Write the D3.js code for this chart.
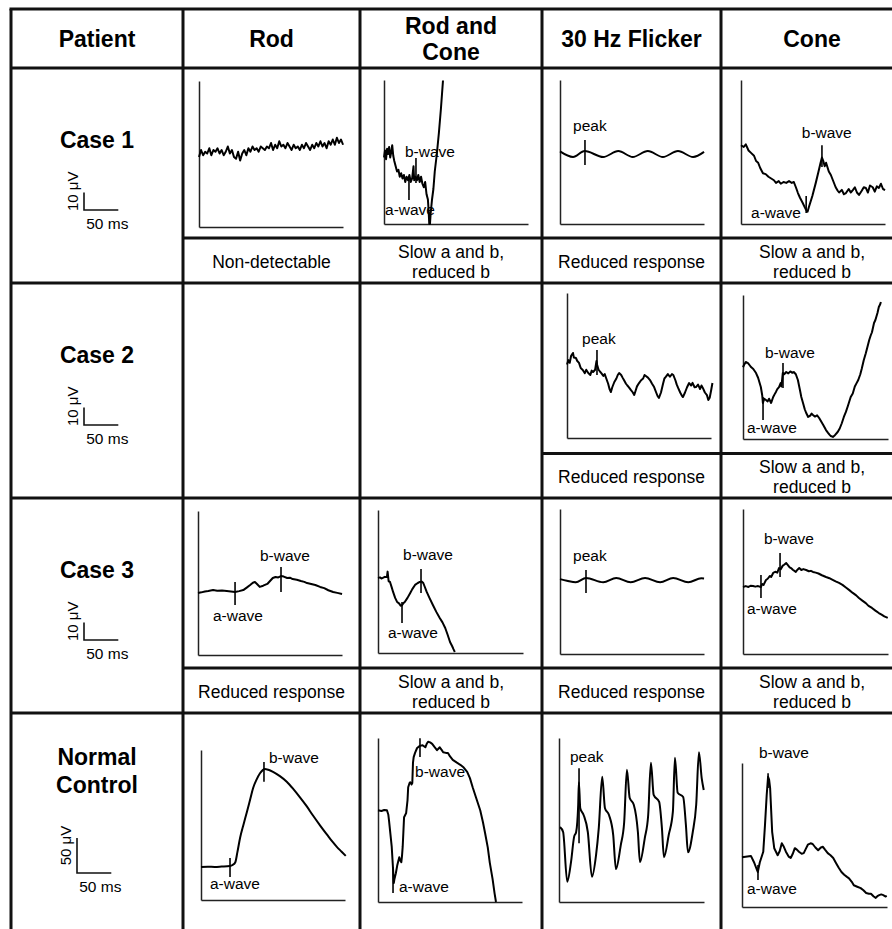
<!DOCTYPE html>
<html><head><meta charset="utf-8">
<script src="https://cdn.jsdelivr.net/npm/d3@7"></script>
<style>
html,body{margin:0;padding:0;background:#fff;}
svg{display:block;font-family:"Liberation Sans",Arial,Helvetica,sans-serif;}
</style></head>
<body>
<svg id="chart" width="892" height="929"></svg>
<script>
// ---------------- DATA ----------------
const patients = [["Case 1"], ["Case 2"], ["Case 3"], ["Normal", "Control"]];
const protocols = [["Rod"], ["Rod and", "Cone"], ["30 Hz Flicker"], ["Cone"]];
const findingsCase1 = [["Non-detectable"], ["Slow a and b,", "reduced b"], ["Reduced response"], ["Slow a and b,", "reduced b"]];
const findingsCase2 = [null, null, ["Reduced response"], ["Slow a and b,", "reduced b"]];
const findingsCase3 = [["Reduced response"], ["Slow a and b,", "reduced b"], ["Reduced response"], ["Slow a and b,", "reduced b"]];
const scaleBarUv = [10, 10, 10, 50];   // μV
const scaleBarMs = [50, 50, 50, 50];   // ms

// traces: [time ms, amplitude μV above the panel's zero line]
const case1Rod = [[0,40],[3,44],[6,41],[9,43],[12,42],[15,45],[18,41],[21,44],[24,43],[27,45],[30,42],[33,44],[36,41],[39,43],[42,46],[45,42],[48,44],[51,40],[54,39],[57,43],[60,38],[63,42],[66,44],[69,41],[72,45],[75,43],[78,46],[81,44],[84,45],[87,43],[90,46],[93,45],[96,44],[99,46],[102,45],[105,48],[108,44],[111,47],[114,45],[117,49],[120,46],[123,47],[126,45],[129,48],[132,46],[135,44],[138,47],[141,45],[144,46],[147,44],[150,47],[153,45],[156,48],[159,46],[162,44],[165,47],[168,45],[171,48],[174,46],[177,49],[180,46],[183,48],[186,45],[189,49],[192,47],[195,50],[198,47],[201,51],[204,48],[207,50],[210,47]];
const case1RodCone = [[0,38],[1.5,42],[3,37],[4.5,43],[6,40],[7.5,44],[9,38],[10.5,41],[12,45],[13.5,39],[15,36],[17,33],[19,30],[21,31],[23,27],[25,29],[27,26],[29,28],[31,24],[33,27],[35,25],[37,28],[39,24],[41,26],[43,33],[44,25],[46,27],[48,25],[50,28],[52,24],[54,27],[56,23],[58,21],[60,24],[62,17],[64,14],[65,8],[66,0],[67,0],[68,6],[70,14],[72,20],[74,30],[77,40],[80,52],[83,66],[86,82]];
const case1Flicker = [[0,41.5],[19,38.3],[36,41.7],[63,38.3],[85,41.7],[106,38.3],[128,41.7],[150,38.3],[172,41.7],[194,38.3],[210,41.2]];
const case1Cone = [[0,45],[4,44],[7,45.5],[11,42],[15,40.5],[19,39],[22,36],[25,35],[28,32],[32,29],[36,28.5],[40,27],[44,26],[48,25],[51,23.5],[55,24.5],[58,23],[62,24],[66,23.5],[70,24.5],[74,23.5],[77,24],[80,21],[83,17.7],[86,15],[90,12],[93,9.5],[95,8],[97,7],[99,9.7],[104,16],[109,23.5],[113,30],[116,35],[118,38],[120,36],[122,33],[124,35],[128,30],[131,28],[134,25],[138,21],[141,19],[143,18],[147,19.5],[150,17],[153,17.7],[157,20],[160,18],[163,19.4],[166,21],[169,18],[172,16.6],[176,19],[179,21],[182,20.6],[185,18],[188,22],[192,21],[195,18.5],[198,21.5],[201,20.6],[204,23],[207,20],[210,19.4]];
const case2Flicker = [[0,42],[2,44.5],[4,43],[6,47],[8.7,48.6],[10,46],[13,45.7],[15,44],[17.5,42.9],[20,40],[23,38.9],[26,37],[28,39],[31,37.1],[34,36],[36,38.5],[38,37.7],[41,39],[43,44],[44,41.7],[46,39],[48,38],[50,37.1],[53,35.5],[55,36.5],[57,34.3],[60,31],[62,28],[64,26.3],[66,29],[69,32],[72,34],[74,36],[76,37.1],[79,36],[81,34.5],[83,33.1],[86,31],[88,30],[90,29.1],[93,27.5],[96,26],[98,24.6],[100,27],[102,29.5],[105,31.4],[108,33],[111,34],[113,36],[115,35.4],[118,34.5],[121,33.1],[124,31],[127,29.1],[130,26],[132,24],[134,22.9],[137,26],[140,31],[142,34],[144,34.9],[147,36.5],[150,35],[153,36.5],[155,36],[158,33],[160,30.5],[162,28.6],[165,26],[167,24.5],[169,23.4],[172,26],[175,29],[178,31.4],[181,30],[183,31.5],[186,29],[188,29.1],[191,30.5],[194,28],[196,30],[198,28.6],[201,26],[204,24.5],[206,21.7],[208,23],[210,27],[212,31.4]];
const case2Cone = [[0,41],[1.5,42.3],[4,44],[7.3,43.4],[10,42],[11.7,41.1],[15,40],[19,37.7],[22,35],[26,29.7],[28,25],[29,20.6],[31,23],[33.5,22.3],[36,21.5],[38,23],[41,20.6],[44,24],[46,25.5],[48,26.9],[50,28.5],[52.5,29.7],[55,32],[56,30],[58,37.7],[60,37],[63,38.3],[66,37.5],[69,38.6],[72,37.8],[74,38.3],[77,37],[80,33.7],[83,28],[85,24],[87.5,20.6],[90,17],[92,15],[95,12.6],[98,13.4],[100,14.5],[102,13.7],[105,12.8],[108,13.5],[111,12],[114,10],[117,8],[121,5.1],[124,3.5],[126,2.5],[128,1.7],[131,1.2],[134,2.2],[138,4],[141,6],[144,9],[147,12.6],[150,15.5],[153,19],[157,24],[160,26],[163,30],[165,31.5],[168,33.7],[171,37],[173,40],[176,45],[179,49],[181,52],[184,56.6],[186,59],[188,61],[191,66.3],[193,68],[196,72],[198,75.4],[200,77],[201,78.3]];
const case3Rod = [[0,35.4],[5,35.8],[10,36.3],[15,36.6],[22,37.1],[28,36.7],[35,36.9],[42,36.6],[48,36.3],[54,36],[60,36.5],[66,37.1],[71,38.5],[76,40],[80,41.3],[83,41.7],[86,40.6],[90,38.9],[95,39.6],[101,40.6],[105,42.3],[109,44],[113,44.6],[117,44.3],[121,45.1],[125,44.8],[130,44],[134,44.2],[138,43.4],[144,43],[150,42.3],[155,41.8],[159,41.1],[165,40.6],[171,40],[178,38.9],[184,38.2],[190,37],[197,36],[203,35.5],[210,34.9]];
const case3RodCone = [[0,42.9],[3,43.2],[5,42.6],[7,42.9],[10,43.5],[13,43.4],[14,46.5],[15.5,41],[17.5,40.6],[20,37.5],[22,34.9],[25,31.5],[28,29.1],[31,28.2],[33,27],[35,27.4],[37,28.5],[39,29.1],[43,31.5],[47,34.3],[50,36.5],[54,38.9],[58,40],[61,40.6],[64,40.8],[66,40],[68,38],[71,34.9],[75,31.5],[80,27.4],[85,23.5],[90,20],[94,17.5],[98,14.3],[101,11],[105,6.3],[108,4],[110,2.2],[112,0.6]];
const case3Flicker = [[0,42.8],[10,41.9],[23,41],[38,43.5],[63,41],[82,43.5],[103,41],[124,43.5],[146,41],[165,43.5],[187,41],[206,43.3],[210,43.2]];
const case3Cone = [[0,38.3],[4,38.8],[8,38.3],[11,39],[14.6,38.9],[18,38.5],[22,38.8],[26,38.3],[28,40],[30,39.5],[33.5,42.3],[36,43],[39,44.5],[41,44],[44,46.3],[47,47],[50,46.5],[52.5,49.1],[55,48.5],[58,50.5],[60,51],[63,52],[66,50.5],[68,49.5],[70,49.1],[73,48],[75,47.5],[77,46.9],[79,48],[82,49.1],[85,48],[88,48.5],[92,48],[96,47.3],[99,47.5],[102,46.9],[106,46.5],[110,46],[115,45],[121,44],[126,43.3],[130,42.5],[135,41.5],[140,40.6],[145,39.5],[150,38],[155,36.5],[160,34.9],[165,33.5],[169,32],[174,30.5],[179,29.1],[183,27.5],[188,26.3],[193,24.8],[198,23.4],[202,22.5],[206,21.5],[211,20.6]];
const normalRod = [[0,47],[10,47.5],[20,47.3],[30,47.8],[42,48.6],[46,50],[50,54],[53,68],[57,89],[62,108],[67,126],[72,145],[76,160],[81,172],[86,181],[90,185.5],[93,187],[98,186],[105,183],[115,177],[125,169],[135,158],[144,147],[154,134],[163,121],[174,106],[184,93],[191,84],[198,76],[205,69],[211,63]];
const normalRodCone = [[0,131],[5,130],[9,131.5],[13,131],[15,125],[16,117],[18,98],[20,79],[22,46],[23,27],[24,33],[26,41],[28,52],[29,56],[31,64],[32,60],[34,57],[35,66],[36,79],[37,100],[38,121],[40,125],[41,127],[43,145],[44,164],[46,170],[47,171],[49,168],[50,170],[51,199],[52,207],[54,213],[57,220],[61,223],[65,224],[69,221],[71,226],[73,229],[76,228],[79,226],[82,222],[86,217],[88,219],[90,221],[93,217],[95,214],[99,213],[102,213],[105,208],[109,203],[115,199],[120,196],[125,192],[130,186],[134,177],[138,164],[143,149],[149,131],[153,114],[156,99],[160,78],[163,56],[167,33],[170,12],[172,0]];
const normalFlicker = [[1.5,107],[6,100],[12,29],[17.5,57],[22,93],[25,100],[28,139],[29,171],[31,134],[36,124],[42,100],[48,36],[54,67],[58,106],[63,179],[67,134],[73,124],[79,96],[83,47],[90,81],[95,114],[99,189],[103,149],[109,139],[115,100],[118,57],[125,91],[130,124],[134,199],[138,153],[146,143],[150,106],[153,64],[160,96],[166,129],[169,206],[173,156],[181,150],[185,110],[188,71],[195,100],[200,139],[204,214],[208,177],[211,160]];
const normalCone = [[0,71],[13,73],[17.5,64],[21,55],[23,50],[26,64],[31,79],[33.5,117],[36,160],[38,186],[39.5,182],[41,170],[44,107],[47,84],[52,74],[55,80],[58,91],[61,86],[64,79],[68,72],[71,70],[74,76],[77,84],[80,82],[83,79],[87,76],[90,77],[93,83],[96,89],[100,91],[103,90],[107,85],[111,81],[115,85],[118,86],[121,82],[125,77],[129,74],[133,70],[137,63],[141,56],[145,50],[149,46],[153,43],[156,41],[160,36],[163,31],[168,29],[173,27],[177,24],[181,20],[185,19],[188,19],[192,15],[195,13],[198,16],[200,17],[203,18],[206,17],[209,15],[211,16]];

// marker ticks: time (ms), tick extent lo..hi (μV)
const case1RodConeMarks = [{name:"a-wave", t:36.4, lo:13.7, hi:25.1}, {name:"b-wave", t:46.6, lo:23.4, hi:37.7}];
const case1FlickerMarks = [{name:"peak", t:36.4, lo:33.7, hi:48}];
const case1ConeMarks = [{name:"a-wave", t:95, lo:6.3, hi:16}, {name:"b-wave", t:118, lo:32.6, hi:45}];
const case2FlickerMarks = [{name:"peak", t:43.7, lo:36, hi:50.3}];
const case2ConeMarks = [{name:"a-wave", t:29.2, lo:10.9, hi:24}, {name:"b-wave", t:58.3, lo:29.1, hi:43.4}];
const case3RodMarks = [{name:"a-wave", t:54, lo:28.6, hi:41.7}, {name:"b-wave", t:121, lo:36, hi:50.3}];
const case3RodConeMarks = [{name:"a-wave", t:35, lo:17.1, hi:29.1}, {name:"b-wave", t:62.7, lo:34.3, hi:48}];
const case3FlickerMarks = [{name:"peak", t:37.9, lo:34.9, hi:48}];
const case3ConeMarks = [{name:"a-wave", t:26.2, lo:32, hi:45.1}, {name:"b-wave", t:54, lo:44, hi:57.7}];
const normalRodMarks = [{name:"a-wave", t:42.3, lo:32.9, hi:60}, {name:"b-wave", t:91.8, lo:169, hi:197}];
const normalRodConeMarks = [{name:"a-wave", t:21.9, lo:12.9, hi:50}, {name:"b-wave", t:61.2, lo:207, hi:234}];
const normalFlickerMarks = [{name:"peak", t:29.2, lo:84, hi:191}];
const normalConeMarks = [{name:"a-wave", t:23.3, lo:38.6, hi:60}, {name:"b-wave", t:38, lo:170, hi:191}];

// ---------------- LAYOUT ----------------
const W = 892, H = 929;
const PX_PER_MS = 0.686;
const colX = [11, 183, 360, 542, 721, 903];
const headerY = [9, 68];
const rowTop = [68, 283, 498, 713];
const rowSplit = [238, 453.5, 668, null];
const rowBottom = [283, 498, 713, 940];
const pxPerUvRow = [1.75, 1.75, 1.75, 0.7];
const FONT = '"Liberation Sans", Arial, Helvetica, sans-serif';

// panel boxes: x0=left axis, y0=top, x1=right end, y1=zero/baseline axis
const panels = [
  {trace:case1Rod, marks:[], row:0, x0:199, y0:81, x1:343, y1:227, curve:"linear", labels:{}},
  {trace:case1RodCone, marks:case1RodConeMarks, row:0, x0:384, y0:80, x1:528, y1:224, curve:"linear",
    labels:{"a-wave":{t:1.5,v:5.1,a:"start"}, "b-wave":{t:30.6,v:38.3,a:"start"}}},
  {trace:case1Flicker, marks:case1FlickerMarks, row:0, x0:560, y0:80, x1:704, y1:224, curve:"smooth",
    labels:{"peak":{t:19,v:53,a:"start"}}},
  {trace:case1Cone, marks:case1ConeMarks, row:0, x0:741, y0:80, x1:885, y1:224, curve:"linear",
    labels:{"a-wave":{t:14.6,v:3.4,a:"start"}, "b-wave":{t:125,v:49,a:"middle"}}},
  {trace:case2Flicker, marks:case2FlickerMarks, row:1, x0:567, y0:293, x1:711, y1:438, curve:"linear",
    labels:{"peak":{t:21.9,v:53.7,a:"start"}}},
  {trace:case2Cone, marks:case2ConeMarks, row:1, x0:743, y0:295, x1:888, y1:439, curve:"linear",
    labels:{"a-wave":{t:5.8,v:3.4,a:"start"}, "b-wave":{t:32,v:46.3,a:"start"}}},
  {trace:case3Rod, marks:case3RodMarks, row:2, x0:198, y0:511, x1:342, y1:655, curve:"linear",
    labels:{"a-wave":{t:58.3,v:19.4,a:"middle"}, "b-wave":{t:126.8,v:53.7,a:"middle"}}},
  {trace:case3RodCone, marks:case3RodConeMarks, row:2, x0:378, y0:510, x1:523, y1:653, curve:"linear",
    labels:{"a-wave":{t:51,v:8.6,a:"middle"}, "b-wave":{t:72.9,v:53.1,a:"middle"}}},
  {trace:case3Flicker, marks:case3FlickerMarks, row:2, x0:560, y0:509, x1:704, y1:654, curve:"smooth",
    labels:{"peak":{t:19,v:53.1,a:"start"}}},
  {trace:case3Cone, marks:case3ConeMarks, row:2, x0:743, y0:509, x1:888, y1:654, curve:"linear",
    labels:{"a-wave":{t:5.8,v:22.9,a:"start"}, "b-wave":{t:67,v:62.9,a:"middle"}}},
  {trace:normalRod, marks:normalRodMarks, row:3, x0:201, y0:750, x1:345, y1:900, curve:"smooth",
    labels:{"a-wave":{t:13,v:15.7,a:"start"}, "b-wave":{t:99,v:196,a:"start"}}},
  {trace:normalRodCone, marks:normalRodConeMarks, row:3, x0:378, y0:738, x1:522, y1:902, curve:"linear",
    labels:{"a-wave":{t:30.6,v:14.3,a:"start"}, "b-wave":{t:54,v:178.6,a:"start"}}},
  {trace:normalFlicker, marks:normalFlickerMarks, row:3, x0:559, y0:738, x1:704, y1:902, curve:"smooth",
    labels:{"peak":{t:16,v:200,a:"start"}}},
  {trace:normalCone, marks:normalConeMarks, row:3, x0:742, y0:763, x1:887, y1:907, curve:"linear",
    labels:{"a-wave":{t:7.3,v:18.6,a:"start"}, "b-wave":{t:24.8,v:213,a:"start"}}}
];

// ---------------- DRAW ----------------
const svg = d3.select("#chart");
svg.append("rect").attr("width", W).attr("height", H).attr("fill", "#fff");

// table grid
const grid = svg.append("g").attr("stroke", "#111").attr("stroke-width", 3).attr("fill", "none");
function hline(y, x0, x1) { grid.append("line").attr("x1", x0).attr("x2", x1).attr("y1", y).attr("y2", y); }
function vline(x, y0, y1) { grid.append("line").attr("x1", x).attr("x2", x).attr("y1", y0).attr("y2", y1); }
hline(headerY[0], colX[0] - 1.5, colX[5]);
hline(headerY[1], colX[0], colX[5]);
rowBottom.slice(0, 3).forEach(y => hline(y, colX[0], colX[5]));
hline(rowSplit[0], colX[1], colX[5]);
hline(rowSplit[1], colX[3], colX[5]);
hline(rowSplit[2], colX[1], colX[5]);
colX.slice(0, 5).forEach(x => vline(x, headerY[0], H + 5));

// header text
const txt = svg.append("g").attr("fill", "#000").style("font-family", FONT);
const header = ["Patient"].map(s => [s]).concat(protocols);
header.forEach((lines, i) => {
  const cx = (colX[i] + colX[i + 1]) / 2;
  const base = lines.length === 1 ? [47] : [34, 60];
  lines.forEach((s, j) => txt.append("text").attr("x", cx).attr("y", base[j])
    .attr("text-anchor", "middle").attr("font-size", 23).attr("font-weight", "bold").text(s));
});

// patient labels and scale bars
patients.forEach((lines, r) => {
  const cx = (colX[0] + colX[1]) / 2;
  const base = lines.length === 1 ? [rowTop[r] + 80] : [rowTop[r] + 52, rowTop[r] + 80];
  lines.forEach((s, j) => txt.append("text").attr("x", cx).attr("y", base[j])
    .attr("text-anchor", "middle").attr("font-size", 23).attr("font-weight", "bold").text(s));

  const bx = r === 3 ? 77 : 84;
  const by = r === 3 ? rowTop[r] + 160 : rowTop[r] + 142;
  const sx = d3.scaleLinear().domain([0, scaleBarMs[r]]).range([bx, bx + scaleBarMs[r] * PX_PER_MS]);
  const sy = d3.scaleLinear().domain([0, scaleBarUv[r]]).range([by, by - scaleBarUv[r] * pxPerUvRow[r]]);
  svg.append("path").attr("fill", "none").attr("stroke", "#111").attr("stroke-width", 1.6)
    .attr("d", `M${bx},${sy(scaleBarUv[r])}V${sy(0)}H${sx(scaleBarMs[r])}`);
  txt.append("text").attr("transform", `translate(${bx - 6.5},${sy(scaleBarUv[r] / 2) - 10}) rotate(-90)`)
    .attr("text-anchor", "middle").attr("font-size", 15).text(scaleBarUv[r] + " μV");
  txt.append("text").attr("x", sx(scaleBarMs[r] * 0.68)).attr("y", by + 18.5)
    .attr("text-anchor", "middle").attr("font-size", 15.5).text(scaleBarMs[r] + " ms");
});

// findings rows
[findingsCase1, findingsCase2, findingsCase3].forEach((row, r) => {
  row.forEach((lines, c) => {
    if (!lines) return;
    const cx = (colX[c + 1] + colX[c + 2]) / 2;
    const top = rowSplit[r];
    const base = lines.length === 1 ? [top + 29.5] : [top + 19.5, top + 39.5];
    lines.forEach((s, j) => txt.append("text").attr("x", cx).attr("y", base[j])
      .attr("text-anchor", "middle").attr("font-size", 17.5).text(s));
  });
});

// waveform panels
panels.forEach(p => {
  const pxUv = pxPerUvRow[p.row];
  const x = d3.scaleLinear().domain([0, (p.x1 - p.x0) / PX_PER_MS]).range([p.x0, p.x1]);
  const y = d3.scaleLinear().domain([0, (p.y1 - p.y0) / pxUv]).range([p.y1, p.y0]);
  const g = svg.append("g");
  const ax = g.append("g").attr("transform", `translate(0,${p.y1})`)
    .call(d3.axisBottom(x).tickValues([]).tickSizeOuter(0));
  const ay = g.append("g").attr("transform", `translate(${p.x0},0)`)
    .call(d3.axisLeft(y).tickValues([]).tickSizeOuter(0));
  [ax, ay].forEach(a => a.select(".domain").attr("stroke", "#222").attr("stroke-width", 1.5));

  const line = d3.line().x(d => x(d[0])).y(d => y(d[1]))
    .curve(p.curve === "smooth" ? d3.curveMonotoneX : d3.curveLinear);
  g.append("path").datum(p.trace).attr("fill", "none").attr("stroke", "#000")
    .attr("stroke-width", 2).attr("stroke-linejoin", "round").attr("d", line);

  p.marks.forEach(m => {
    g.append("line").attr("x1", x(m.t)).attr("x2", x(m.t)).attr("y1", y(m.lo)).attr("y2", y(m.hi))
      .attr("stroke", "#000").attr("stroke-width", 1.6);
    const L = p.labels[m.name];
    if (L) g.append("text").attr("x", x(L.t)).attr("y", y(L.v)).attr("text-anchor", L.a)
      .attr("font-size", 15.5).attr("fill", "#000").style("font-family", FONT).text(m.name);
  });
});
</script>
</body></html>
